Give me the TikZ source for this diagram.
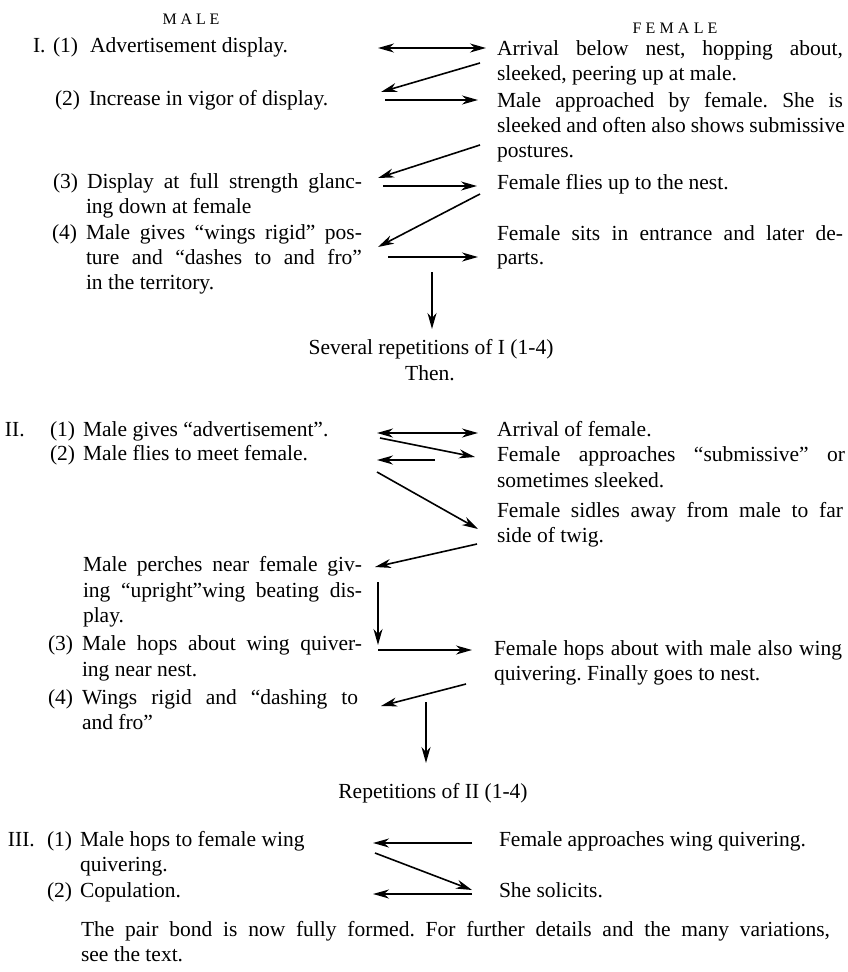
\documentclass[tikz,border=0pt]{standalone}
\usepackage{fontspec}
\setmainfont{Liberation Serif}
\usetikzlibrary{arrows.meta}
\frenchspacing
% a line set out to a given width, its word spaces stretched
\newcommand{\just}[2]{\makebox[#1pt][s]{#2}}
\begin{document}
\begin{tikzpicture}[x=1pt,y=-1pt,
  every node/.style={inner sep=0pt,outer sep=0pt},
  >={Stealth[length=16pt,width=9pt,inset=5pt]},
  line/.style={anchor=base west,font=\fontsize{21.5}{26}\selectfont},
  mid/.style={anchor=base,font=\fontsize{21.5}{26}\selectfont},
  head/.style={anchor=base,font=\fontsize{16}{18}\selectfont},
  link/.style={line width=1.6pt,->},
  twoway/.style={line width=1.6pt,<->},
]
\useasboundingbox[fill=white] (0,0) rectangle (848,972);

% ---------- column heads ----------
\node[head] (hmale) at (191,24) {\makebox[57pt][s]{M\hfil A\hfil L\hfil E}};
\node[head] (hfemale) at (675,33) {\makebox[85pt][s]{F\hfil E\hfil M\hfil A\hfil L\hfil E}};

% ---------- stage I, male ----------
\node[line] (i) at (33,52) {I.};
\node[line] (i1n) at (53,52) {(1)};
\node[line] (i1) at (90,52) {Advertisement display.};
\node[line] (i2n) at (55,105) {(2)};
\node[line] (i2) at (89,105) {Increase in vigor of display.};
\node[line] (i3n) at (53,188) {(3)};
\node[line] (i3a) at (87,188) {\just{275}{Display at full strength glanc-}};
\node[line] (i3b) at (86,213) {ing down at female};
\node[line] (i4n) at (52,239) {(4)};
\node[line] (i4a) at (86,239) {\just{276}{Male gives ``wings rigid'' pos-}};
\node[line] (i4b) at (86,264) {\just{276}{ture and ``dashes to and fro''}};
\node[line] (i4c) at (86,289) {in the territory.};

% ---------- stage I, female ----------
\node[line] (fi1a) at (497,55) {\just{346}{Arrival below nest, hopping about,}};
\node[line] (fi1b) at (497,80) {sleeked, peering up at male.};
\node[line] (fi2a) at (497,107) {\just{346}{Male approached by female. She is}};
\node[line] (fi2b) at (497,132) {\just{348}{sleeked and often also shows submissive}};
\node[line] (fi2c) at (497,157) {postures.};
\node[line] (fi3) at (497,189) {Female flies up to the nest.};
\node[line] (fi4a) at (497,240) {\just{346}{Female sits in entrance and later de-}};
\node[line] (fi4b) at (497,264) {parts.};

% ---------- stage I, exchanges ----------
\coordinate (a1l) at (378,48);  \coordinate (a1r) at (486,48);
\coordinate (a2s) at (480,63);  \coordinate (a2e) at (381,92);
\coordinate (a3s) at (385,100); \coordinate (a3e) at (478,100);
\coordinate (a4s) at (480,145); \coordinate (a4e) at (378,178);
\coordinate (a5s) at (383,186); \coordinate (a5e) at (477,186);
\coordinate (a6s) at (480,194); \coordinate (a6e) at (378,247);
\coordinate (a7s) at (388,257); \coordinate (a7e) at (478,257);
\coordinate (a8s) at (432,272); \coordinate (a8e) at (432,329);
\draw[twoway] (a1l) -- (a1r);
\draw[link] (a2s) -- (a2e);
\draw[link] (a3s) -- (a3e);
\draw[link] (a4s) -- (a4e);
\draw[link] (a5s) -- (a5e);
\draw[link] (a6s) -- (a6e);
\draw[link] (a7s) -- (a7e);
\draw[link] (a8s) -- (a8e);

\node[mid] (rep1) at (431,354) {Several repetitions of I (1-4)};
\node[mid] (then) at (430,380) {Then.};

% ---------- stage II, male ----------
\node[line] (ii) at (5,436) {II.};
\node[line] (ii1n) at (50,436) {(1)};
\node[line] (ii1) at (83,436) {Male gives ``advertisement''.};
\node[line] (ii2n) at (50,460) {(2)};
\node[line] (ii2) at (83,460) {Male flies to meet female.};
\node[line] (iipa) at (83,571) {\just{279}{Male perches near female giv-}};
\node[line] (iipb) at (83,597) {\just{279}{ing ``upright''wing beating dis-}};
\node[line] (iipc) at (83,622) {play.};
\node[line] (ii3n) at (48,650) {(3)};
\node[line] (ii3a) at (82,650) {\just{280}{Male hops about wing quiver-}};
\node[line] (ii3b) at (82,676) {ing near nest.};
\node[line] (ii4n) at (48,704) {(4)};
\node[line] (ii4a) at (82,704) {\just{276}{Wings rigid and ``dashing to}};
\node[line] (ii4b) at (82,729) {and fro''};

% ---------- stage II, female ----------
\node[line] (fii1) at (497,436) {Arrival of female.};
\node[line] (fii2a) at (497,461) {\just{348}{Female approaches ``submissive'' or}};
\node[line] (fii2b) at (497,487) {sometimes sleeked.};
\node[line] (fii3a) at (497,517) {\just{346}{Female sidles away from male to far}};
\node[line] (fii3b) at (497,542) {side of twig.};
\node[line] (fii4a) at (494,655) {\just{348}{Female hops about with male also wing}};
\node[line] (fii4b) at (494,680) {quivering. Finally goes to nest.};

% ---------- stage II, exchanges ----------
\coordinate (b1l) at (377,433); \coordinate (b1r) at (478,433);
\coordinate (b2s) at (380,438); \coordinate (b2e) at (475,457);
\coordinate (b3s) at (435,460); \coordinate (b3e) at (377,460);
\coordinate (b4s) at (377,472); \coordinate (b4e) at (478,529);
\coordinate (b5s) at (477,544); \coordinate (b5e) at (375,567);
\coordinate (b6s) at (378,582); \coordinate (b6e) at (378,645);
\coordinate (b7s) at (378,650); \coordinate (b7e) at (472,650);
\coordinate (b8s) at (466,684); \coordinate (b8e) at (381,706);
\coordinate (b9s) at (426,702); \coordinate (b9e) at (426,763);
\draw[twoway] (b1l) -- (b1r);
\draw[link] (b2s) -- (b2e);
\draw[link] (b3s) -- (b3e);
\draw[link] (b4s) -- (b4e);
\draw[link] (b5s) -- (b5e);
\draw[link] (b6s) -- (b6e);
\draw[link] (b7s) -- (b7e);
\draw[link] (b8s) -- (b8e);
\draw[link] (b9s) -- (b9e);

\node[mid] (rep2) at (433,798) {Repetitions of II (1-4)};

% ---------- stage III ----------
\node[line] (iii) at (8,846) {III.};
\node[line] (iii1n) at (47,846) {(1)};
\node[line] (iii1a) at (80,846) {Male hops to female wing};
\node[line] (iii1b) at (80,871) {quivering.};
\node[line] (iii2n) at (47,897) {(2)};
\node[line] (iii2) at (80,897) {Copulation.};
\node[line] (fiii1) at (499,846) {Female approaches wing quivering.};
\node[line] (fiii2) at (499,897) {She solicits.};

\coordinate (c1s) at (472,843); \coordinate (c1e) at (373,843);
\coordinate (c2s) at (375,853); \coordinate (c2e) at (472,890);
\coordinate (c3s) at (472,894); \coordinate (c3e) at (373,894);
\draw[link] (c1s) -- (c1e);
\draw[link] (c2s) -- (c2e);
\draw[link] (c3s) -- (c3e);

% ---------- closing note ----------
\node[line] (notea) at (81,936) {\just{749}{The pair bond is now fully formed. For further details and the many variations,}};
\node[line] (noteb) at (81,961) {see the text.};
\end{tikzpicture}
\end{document}
